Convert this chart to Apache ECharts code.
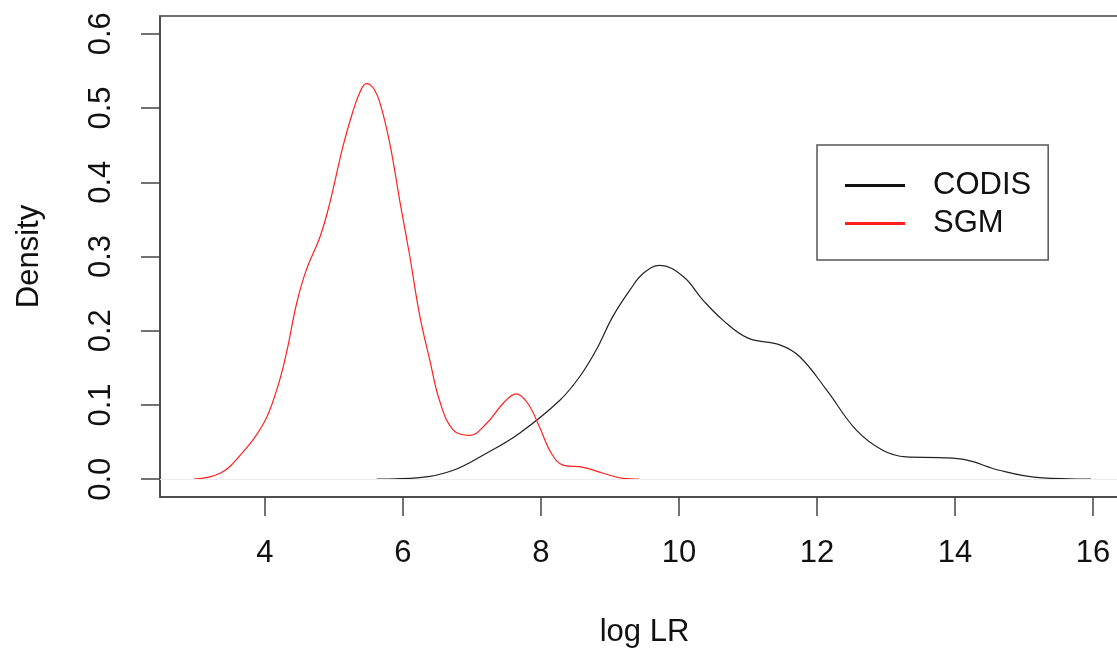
<!DOCTYPE html>
<html>
<head>
<meta charset="utf-8">
<script src="https://cdn.jsdelivr.net/npm/echarts@6/dist/echarts.min.js"></script>
<style>
html,body{margin:0;padding:0;background:#fff;}
#chart{width:1117px;height:650px;}
</style>
</head>
<body>
<div id="chart"></div>
<script>
// SGM density (red)
var sgmX = [2.97, 3.35, 3.64, 3.98, 4.17, 4.31, 4.46, 4.60, 4.80, 4.94, 5.13, 5.28, 5.38, 5.47, 5.57, 5.67, 5.81, 5.96, 6.10, 6.24, 6.39, 6.53, 6.73, 6.97, 7.21, 7.45, 7.64, 7.81, 7.98, 8.15, 8.32, 8.61, 8.90, 9.19, 9.42];
var sgmY = [0, 0.008, 0.032, 0.075, 0.12, 0.169, 0.237, 0.282, 0.327, 0.372, 0.448, 0.497, 0.522, 0.533, 0.527, 0.506, 0.452, 0.372, 0.30, 0.222, 0.160, 0.106, 0.066, 0.059, 0.075, 0.102, 0.115, 0.102, 0.070, 0.035, 0.019, 0.016, 0.008, 0.001, 0];
// CODIS density (black)
var codisX = [5.62, 6.24, 6.73, 7.21, 7.69, 8.27, 8.56, 8.80, 9.04, 9.29, 9.48, 9.72, 10.06, 10.35, 10.64, 11.00, 11.46, 11.75, 12.14, 12.57, 12.95, 13.29, 13.78, 14.16, 14.64, 15.22, 15.97];
var codisY = [0, 0.002, 0.012, 0.035, 0.062, 0.106, 0.138, 0.174, 0.219, 0.255, 0.277, 0.288, 0.273, 0.241, 0.214, 0.190, 0.181, 0.165, 0.120, 0.066, 0.039, 0.030, 0.029, 0.026, 0.012, 0.002, 0];
// ticks
var xTicks = [4, 6, 8, 10, 12, 14, 16];
var yTicks = [0, 0.1, 0.2, 0.3, 0.4, 0.5, 0.6];
var seriesNames = ['CODIS', 'SGM'];

function pairs(xs, ys) { return xs.map(function (x, i) { return [x, ys[i]]; }); }

var FONT = 'Liberation Sans, Arial, Helvetica, sans-serif';
var FS = 31;
var AX = '#444';

var chart = echarts.init(document.getElementById('chart'), null, {renderer: 'canvas'});
chart.setOption({
  animation: false,
  backgroundColor: '#fff',
  textStyle: {fontFamily: FONT},
  grid: {left: 160, top: 16, width: 969, height: 481, show: true, borderColor: AX, borderWidth: 1.5, backgroundColor: 'transparent', containLabel: false, outerBoundsMode: 'none'},
  legend: {
    orient: 'vertical', left: 817, top: 145,
    data: seriesNames,
    icon: 'rect',
    itemWidth: 60, itemHeight: 3, itemGap: 3,
    padding: [23, 17, 19, 28],
    borderColor: '#555', borderWidth: 1.5, backgroundColor: '#fff',
    textStyle: {fontSize: FS, color: '#111', fontFamily: FONT, padding: [0, 0, 0, 23], lineHeight: 35}
  },
  xAxis: {
    type: 'value', min: 2.48, max: 16.52,
    name: 'log LR', nameLocation: 'middle', nameGap: 120,
    nameTextStyle: {fontSize: FS, color: '#111', fontFamily: FONT},
    splitLine: {show: false},
    axisLine: {show: true, onZero: false, lineStyle: {color: AX, width: 1.5}},
    axisTick: {show: true, length: 19, lineStyle: {color: AX, width: 1.5}, customValues: xTicks},
    axisLabel: {fontSize: FS, color: '#111', fontFamily: FONT, margin: 41, customValues: xTicks, formatter: function (v) { return String(v); }}
  },
  yAxis: {
    type: 'value', min: -0.024, max: 0.624,
    name: 'Density', nameLocation: 'middle', nameGap: 115, nameRotate: 90,
    nameTextStyle: {fontSize: FS, color: '#111', fontFamily: FONT},
    splitLine: {show: false},
    axisLine: {show: true, onZero: false, lineStyle: {color: AX, width: 1.5}},
    axisTick: {show: true, length: 19, lineStyle: {color: AX, width: 1.5}, customValues: yTicks},
    axisLabel: {fontSize: FS, color: '#111', fontFamily: FONT, margin: 43, rotate: 90, customValues: yTicks, formatter: function (v) { return v.toFixed(1); }}
  },
  series: [
    {
      name: 'CODIS', type: 'line', data: pairs(codisX, codisY), smooth: 0.4, symbol: 'none',
      lineStyle: {color: '#222', width: 1.2}, itemStyle: {color: '#111'},
      markLine: {silent: true, symbol: 'none', label: {show: false}, lineStyle: {color: '#ececec', width: 1, type: 'solid'}, data: [{yAxis: 0}]},
      z: 3
    },
    {
      name: 'SGM', type: 'line', data: pairs(sgmX, sgmY), smooth: 0.4, symbol: 'none',
      lineStyle: {color: '#ff2020', width: 1.2}, itemStyle: {color: '#ff2020'},
      z: 3
    }
  ]
});
</script>
</body>
</html>
